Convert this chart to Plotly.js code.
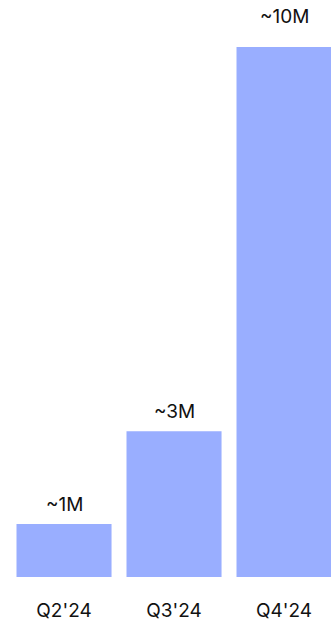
<!DOCTYPE html>
<html>
<head>
<meta charset="utf-8">
<script src="https://cdn.plot.ly/plotly-3.0.1.min.js"></script>
<style>html,body{margin:0;padding:0;background:#fff;}#chart{width:331px;height:621px;}</style>
</head>
<body>
<div id="chart"></div>
<script>
const quarters = ["Q2'24", "Q3'24", "Q4'24"];
const usersMillions = [1, 2.75, 10];
const valueLabels = ["~1M", "~3M", "~10M"];

const barColor = '#99AEFF';
const fontFamily = 'Inter, "Noto Sans", sans-serif';

const trace = {
  type: 'bar',
  x: quarters,
  y: usersMillions,
  marker: {color: barColor, line: {width: 0}},
  width: 0.864,
  hoverinfo: 'skip'
};

const annotations = quarters.map((q, i) => ({
  x: q,
  y: usersMillions[i],
  xref: 'x',
  yref: 'y',
  text: valueLabels[i],
  showarrow: false,
  yanchor: 'bottom',
  yshift: i === 2 ? 17 : 6,
  font: {family: fontFamily, size: 19, color: '#111111'}
}));

const layout = {
  width: 331,
  height: 621,
  margin: {l: 0, r: 0, t: 0, b: 44},
  paper_bgcolor: '#ffffff',
  plot_bgcolor: '#ffffff',
  showlegend: false,
  xaxis: {
    type: 'category',
    range: [-0.582, 2.427],
    showgrid: false,
    zeroline: false,
    showline: false,
    ticks: '',
    ticklabelstandoff: 20,
    tickfont: {family: fontFamily, size: 19, color: '#111111'},
    fixedrange: true
  },
  yaxis: {
    range: [0, 10.887],
    visible: false,
    showgrid: false,
    zeroline: false,
    fixedrange: true
  },
  annotations: annotations
};

Plotly.newPlot('chart', [trace], layout, {displayModeBar: false, staticPlot: true});
</script>
</body>
</html>
